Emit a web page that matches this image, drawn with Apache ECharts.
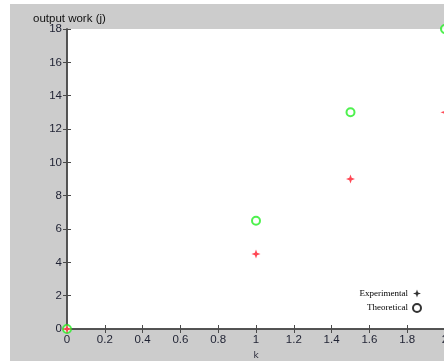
<!DOCTYPE html>
<html>
<head>
<meta charset="utf-8">
<style>
  html, body { margin: 0; padding: 0; background: #ffffff; }
  #chart { width: 444px; height: 361px; }
</style>
<script src="https://cdn.jsdelivr.net/npm/echarts@6/dist/echarts.min.js"></script>
</head>
<body>
<div id="chart"></div>
<script>
// Spring constant k and the work output measured / predicted for it
const kValues = [0, 1, 1.5, 2];
const experimental = [0, 4.5, 9, 13];
const theoretical = [0, 6.5, 13, 18];

const starPath = 'path://M0,-10 L2.6,-2.6 L10,0 L2.6,2.6 L0,10 L-2.6,2.6 L-10,0 L-2.6,-2.6 Z';

const pair = (xs, ys) => xs.map((x, i) => [x, ys[i]]);

const axisColor = '#4a4a4a';
const tickFont = { fontFamily: 'Liberation Sans', fontSize: 11.5, color: '#1f2233' };

const chart = echarts.init(document.getElementById('chart'), null, { renderer: 'canvas' });

chart.setOption({
  animation: false,
  backgroundColor: '#ffffff',
  graphic: [{
    type: 'rect',
    z: -10,
    silent: true,
    shape: { x: 10, y: 4, width: 434, height: 357 },
    style: { fill: '#cccccc' }
  }],
  title: {
    text: 'output work (j)',
    left: 28,
    top: 8,
    textStyle: { fontFamily: 'Liberation Sans', fontSize: 11.5, fontWeight: 'normal', color: '#111' }
  },
  grid: {
    left: 67, top: 29, width: 378, height: 300,
    outerBoundsMode: 'none',
    containLabel: false,
    show: true, backgroundColor: '#ffffff', borderWidth: 0
  },
  legend: {
    orient: 'vertical',
    right: 17,
    top: 284,
    align: 'right',
    itemWidth: 8,
    itemHeight: 8,
    itemGap: 5,
    textStyle: { fontFamily: 'Liberation Serif', fontSize: 9, color: '#000' },
    data: [
      { name: 'Experimental', icon: starPath, itemStyle: { color: '#000' } },
      { name: 'Theoretical', icon: 'emptyCircle', itemStyle: { color: '#000', borderColor: '#000', borderWidth: 0.9 } }
    ]
  },
  xAxis: [{
    type: 'value', min: 0, max: 2, interval: 0.2,
    name: 'k', nameLocation: 'middle', nameGap: 21,
    nameTextStyle: { fontFamily: 'DejaVu Sans', fontSize: 9, color: '#2a2a3a' },
    axisLine: { show: true, lineStyle: { color: axisColor, width: 1.5 } },
    axisTick: { show: true, inside: true, length: 4, lineStyle: { color: axisColor } },
    axisLabel: Object.assign({ margin: 5, formatter: v => String(+v.toFixed(1)) }, tickFont),
    splitLine: { show: false }
  }, {
    type: 'value', min: 0, max: 2, interval: 0.2, position: 'top',
    axisLine: { show: true, lineStyle: { color: axisColor, width: 1.5 } },
    axisTick: { show: true, inside: true, length: 4, lineStyle: { color: axisColor } },
    axisLabel: { show: false },
    splitLine: { show: false }
  }],
  yAxis: [{
    type: 'value', min: 0, max: 18, interval: 2,
    axisLine: { show: true, lineStyle: { color: axisColor, width: 1.5 } },
    axisTick: { show: true, inside: true, length: 4, lineStyle: { color: axisColor } },
    axisLabel: Object.assign({ margin: 5 }, tickFont),
    splitLine: { show: false }
  }, {
    type: 'value', min: 0, max: 18, interval: 2, position: 'right',
    axisLine: { show: true, lineStyle: { color: axisColor, width: 1.5 } },
    axisTick: { show: true, inside: true, length: 4, lineStyle: { color: axisColor } },
    axisLabel: { show: false },
    splitLine: { show: false }
  }],
  series: [{
    name: 'Theoretical',
    type: 'scatter',
    symbol: 'emptyCircle',
    symbolSize: 8,
    clip: false,
    itemStyle: { color: '#22ee22', borderColor: '#22ee22', borderWidth: 1.1 },
    data: pair(kValues, theoretical),
    z: 3
  }, {
    name: 'Experimental',
    type: 'scatter',
    symbol: starPath,
    symbolSize: 9,
    clip: false,
    itemStyle: { color: '#ff1a2a' },
    data: pair(kValues, experimental),
    z: 4
  }]
});
</script>
</body>
</html>
